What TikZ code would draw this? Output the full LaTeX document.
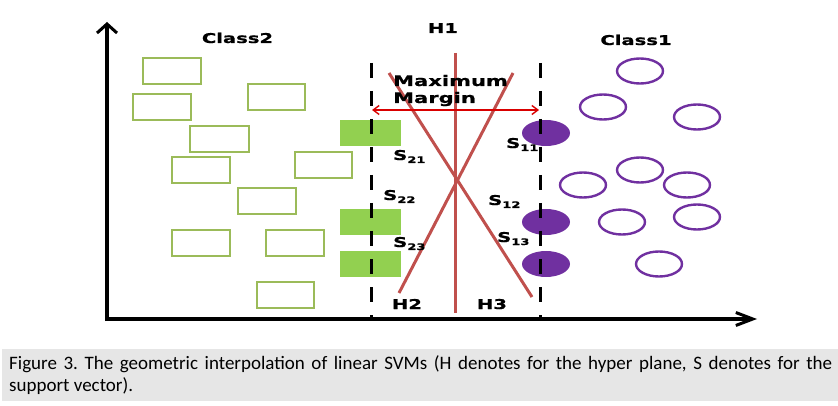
\documentclass[tikz,border=0pt]{standalone}
\usepackage{fontspec}
\usetikzlibrary{arrows.meta}
\newfontfamily\lblfont[FakeStretch=1.45,FakeBold=0.8]{DejaVu Sans}
\newfontfamily\capfont{Carlito}
\definecolor{gfill}{HTML}{92D050}
\definecolor{gline}{HTML}{9BBB59}
\definecolor{purp}{HTML}{7030A0}
\definecolor{hred}{HTML}{C0504D}
\definecolor{capbg}{HTML}{E6E6E6}
\tikzset{
  x=1pt,y=-1pt,
  lbl/.style={inner sep=0pt,font=\lblfont\bfseries\fontsize{13.5}{16}\selectfont},
  sv/.style={lbl,anchor=base west},
  grect/.style={draw=gline,line width=2.6pt},
  gfilled/.style={fill=gfill},
  pell/.style={draw=purp,line width=2.4pt},
  pfilled/.style={fill=purp},
  margin/.style={draw=black,line width=3pt,dash pattern=on 15pt off 13pt},
  hyper/.style={draw=hred,line width=3pt},
}
\newcommand{\sublbl}[2]{S\raisebox{-3pt}{\fontsize{9}{10}\selectfont #2}}
\begin{document}
\begin{tikzpicture}
\useasboundingbox (0,0) rectangle (838,406);
% caption
\fill[capbg] (2,349) rectangle (838,401);
\node[anchor=north west,inner sep=0pt,text width=823pt,align=justify,
  font=\capfont\fontsize{19}{22}\selectfont\frenchspacing] (cap) at (9,355)
  {Figure 3. The geometric interpolation of linear SVMs (H denotes for the hyper plane, S denotes for the\linebreak support vector).};
% class2 outlined rects
\foreach \a/\b/\c/\d [count=\i] in {143/58/201/84,133/94/191/120,248/84/305/110,190/126/249/152,172/157/230/183,295/152/352/178,238/188/296/214,172/230/230/256,266/230/324/256,257/282/314/308}
  \draw[grect] (\a,\b) rectangle (\c,\d) coordinate (gr\i);
% filled green support vectors
\fill[gfilled] (340,120) rectangle (401,146) coordinate (gs1);
\fill[gfilled] (340,209) rectangle (401,235) coordinate (gs2);
\fill[gfilled] (340,251) rectangle (401,277) coordinate (gs3);
% class1 outlined ellipses
\foreach \x/\y [count=\i] in {640/71,603/107,697/117,640/170,583/185,687/185,622/222,697/217,659/264}
  \draw[pell] (\x,\y) coordinate (pc\i) ellipse [x radius=23pt,y radius=12.5pt];
% filled purple support vectors
\fill[pfilled] (546,133) coordinate (ps1) ellipse [x radius=24pt,y radius=13pt];
\fill[pfilled] (546,222) coordinate (ps2) ellipse [x radius=24pt,y radius=13pt];
\fill[pfilled] (546,264) coordinate (ps3) ellipse [x radius=24pt,y radius=13pt];
% hyperplanes
\coordinate (h1t) at (455,53); \coordinate (h1b) at (455,313);
\coordinate (h2t) at (513,73); \coordinate (h2b) at (399,293);
\coordinate (h3t) at (389,73); \coordinate (h3b) at (532,297);
\draw[hyper] (h1t) -- (h1b);
\draw[hyper] (h2t) -- (h2b);
\draw[hyper] (h3t) -- (h3b);
% margin lines
\coordinate (ml1) at (371,63); \coordinate (ml2) at (371,318);
\coordinate (mr1) at (540,63); \coordinate (mr2) at (540,318);
\draw[margin] (ml1) -- (ml2);
\draw[margin] (mr1) -- (mr2);
% maximum margin arrow
\coordinate (ma) at (372,110); \coordinate (mb) at (539,110);
\draw[red!85!black,line width=1.4pt,{Straight Barb[length=6pt,width=9pt]}-{Straight Barb[length=6pt,width=9pt]}] (ma) -- (mb);
% axes
\coordinate (o) at (107,319);
\coordinate (ytop) at (107,22);
\coordinate (xend) at (757,319);
\draw[line width=4pt,-{Straight Barb[length=9pt,width=20pt,line width=3pt]}] (107,321) -- (ytop);
\draw[line width=3.5pt,-{Straight Barb[length=17pt,width=13pt,line width=3pt]}] (105,319) -- (xend);
% labels
\node[lbl,anchor=base] (c2) at (237.5,43) {Class2};
\node[lbl,anchor=base] (c1) at (636,45) {Class1};
\node[lbl,anchor=base] (lh1) at (443,33) {H1};
\node[lbl,anchor=base west,font=\lblfont\bfseries\fontsize{14.5}{16}\selectfont] (mx) at (393,86) {Maximum};
\node[lbl,anchor=base west,font=\lblfont\bfseries\fontsize{14.5}{16}\selectfont] (mg) at (393,103) {Margin};
\node[sv] (s21) at (393,160) {\sublbl{S}{21}};
\node[sv] (s22) at (383,200) {\sublbl{S}{22}};
\node[sv] (s23) at (393,247) {\sublbl{S}{23}};
\node[sv] (s11) at (506,148) {\sublbl{S}{11}};
\node[sv] (s12) at (488,205) {\sublbl{S}{12}};
\node[sv] (s13) at (497,242) {\sublbl{S}{13}};
\node[lbl,anchor=base] (lh2) at (407,309) {H2};
\node[lbl,anchor=base] (lh3) at (492,309) {H3};
\end{tikzpicture}
\end{document}
